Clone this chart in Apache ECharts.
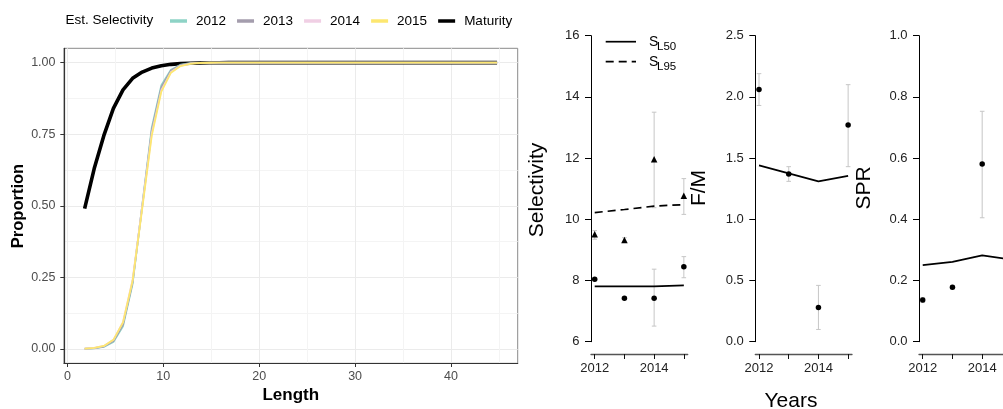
<!DOCTYPE html>
<html><head><meta charset="utf-8">
<script src="https://cdn.jsdelivr.net/npm/echarts@6/dist/echarts.min.js"></script>
<style>html,body{margin:0;padding:0;background:#fff}#c{width:1003px;height:409px}</style>
</head><body><div id="c"></div>
<script>
// ---------- Left panel data ----------
const lengths = [1.8,2.8,3.8,4.8,5.8,6.8,7.8,8.8,9.8,10.8,11.8,12.8,13.8,14.8,15.8,16.8,17.8,18.8,19.8,20.8,21.8,22.8,23.8,24.8,25.8,26.8,27.8,28.8,29.8,30.8,31.8,32.8,33.8,34.8,35.8,36.8,37.8,38.8,39.8,40.8,41.8,42.8,43.8,44.8];
const sel2012 = [0.0006,0.0022,0.0073,0.0246,0.079,0.227,0.5,0.773,0.921,0.975,0.9927,0.9978,0.9994,0.9998,1,1,1,1,1,1,1,1,1,1,1,1,1,1,1,1,1,1,1,1,1,1,1,1,1,1,1,1,1,1];
const sel2013 = [0.0008,0.0027,0.0087,0.0277,0.085,0.233,0.497,0.763,0.913,0.972,0.991,0.9973,0.9992,0.9998,1,1,1,1,1,1,1,1,1,1,1,1,1,1,1,1,1,1,1,1,1,1,1,1,1,1,1,1,1,1];
const sel2014 = [0.0011,0.0035,0.0108,0.032,0.094,0.242,0.497,0.753,0.904,0.967,0.989,0.9964,0.9988,0.9996,1,1,1,1,1,1,1,1,1,1,1,1,1,1,1,1,1,1,1,1,1,1,1,1,1,1,1,1,1,1];
const sel2015 = [0.0012,0.0036,0.0108,0.032,0.093,0.238,0.489,0.745,0.899,0.965,0.988,0.996,0.9987,0.9996,1,1,1,1,1,1,1,1,1,1,1,1,1,1,1,1,1,1,1,1,1,1,1,1,1,1,1,1,1,1];
const maturity = [0.49,0.63,0.745,0.84,0.905,0.945,0.967,0.981,0.989,0.994,0.9965,0.998,0.9989,0.9994,0.9997,1,1,1,1,1,1,1,1,1,1,1,1,1,1,1,1,1,1,1,1,1,1,1,1,1,1,1,1,1];
const legendNames = ['2012','2013','2014','2015','Maturity'];
const xTicksLeft = [0,10,20,30,40];
const xMinorLeft = [5,15,25,35,45];
const yTicksLeft = [0,0.25,0.5,0.75,1];
const yMinorLeft = [0.125,0.375,0.625,0.875];

// ---------- Right panels data ----------
const years = [2012,2013,2014,2015];
const yearLabels = [2012,2014];
const sl50Line = [7.81,7.81,7.81,7.84];
const sl95Line = [10.22,10.32,10.43,10.48];
const sl50Est = [8.04,7.42,7.42,8.45];
const sl50Lo  = [7.99,7.38,6.51,8.09];
const sl50Hi  = [8.09,7.46,8.37,8.78];
const sl95Est = [9.51,9.32,11.96,10.77];
const sl95Lo  = [9.35,9.24,10.38,10.16];
const sl95Hi  = [9.63,9.40,13.5,11.33];
const fmLine = [1.44,1.375,1.31,1.355];
const fmEst = [2.06,1.37,0.28,1.77];
const fmLo  = [1.93,1.31,0.10,1.43];
const fmHi  = [2.19,1.43,0.46,2.10];
const sprLine = [0.25,0.261,0.282,0.268];
const sprEst = [0.136,0.178,0.581];
const sprLo  = [0.128,0.172,0.405];
const sprHi  = [0.144,0.184,0.753];

const FONT = "'Liberation Sans', Arial, sans-serif";
const colors = {'2012':'#8ED3C6','2013':'#A49DAD','2014':'#F0CFE4','2015':'#FDE770','Maturity':'#000000'};

const pairs = (xs, ys) => xs.map((x,i)=>[x, ys[i]]);
const errData = (est, lo, hi) => est.map((v,i)=>[years[i], lo[i], hi[i]]);

function errRender(params, api){
  const x = api.value(0), lo = api.value(1), hi = api.value(2);
  const p1 = api.coord([x, lo]), p2 = api.coord([x, hi]);
  const w = 2.3;
  const st = {stroke:'#c6c6c6', lineWidth:1};
  return {type:'group', children:[
    {type:'line', shape:{x1:p1[0],y1:p1[1],x2:p2[0],y2:p2[1]}, style:st},
    {type:'line', shape:{x1:p1[0]-w,y1:p1[1],x2:p1[0]+w,y2:p1[1]}, style:st},
    {type:'line', shape:{x1:p2[0]-w,y1:p2[1],x2:p2[0]+w,y2:p2[1]}, style:st}
  ]};
}

const chart = echarts.init(document.getElementById('c'), null, {renderer:'canvas', devicePixelRatio:1});

// third panel is cut by the right edge of the picture: its grid ends at the canvas edge
const rightGrids = [
  {left:591, top:35.7, width:96.7, height:306},
  {left:755.3, top:35.7, width:96.7, height:306},
  {left:919, top:35.7, right:0, height:306}
];
const xMaxes = [2015.13, 2015.13, 2014.70];

function rightX(gi){
  return {gridIndex:gi, type:'value', min:2011.875, max:xMaxes[gi-1], offset:12.3, position:'bottom',
    axisLine:{show:true, onZero:false, lineStyle:{color:'#555', width:1.3}},
    axisTick:{show:true, customValues:years.filter(y=>y<=xMaxes[gi-1]), length:5, lineStyle:{color:'#111'}},
    axisLabel:{show:true, customValues:yearLabels, margin:8, fontSize:13, color:'#222', fontFamily:FONT, formatter:v=>String(Math.round(v))},
    splitLine:{show:false}};
}
function rightY(gi, min, max, interval, dec){
  return {gridIndex:gi, type:'value', min:min, max:max, interval:interval,
    axisLine:{show:true, onZero:false, lineStyle:{color:'#000', width:1}},
    axisTick:{show:true, length:6, lineStyle:{color:'#000'}},
    axisLabel:{margin:11.5, fontSize:13, color:'#222', fontFamily:FONT, formatter:v=>v.toFixed(dec)},
    splitLine:{show:false}};
}

const leftSeries = [];
leftSeries.push({name:'Maturity', type:'line', xAxisIndex:0, yAxisIndex:0, data:pairs(lengths, maturity), symbol:'none', lineStyle:{color:colors['Maturity'], width:3.6}, itemStyle:{color:colors['Maturity']}, z:2});
[['2012',sel2012],['2013',sel2013],['2014',sel2014],['2015',sel2015]].forEach(([n,arr])=>{
  leftSeries.push({name:n, type:'line', xAxisIndex:0, yAxisIndex:0, data:pairs(lengths, arr), symbol:'none', lineStyle:{color:colors[n], width:1.8}, itemStyle:{color:colors[n]}, z:3});
});

const pt = {color:'#000', opacity:1};
const rightSeries = [
  // Selectivity
  {name:'sl50l', type:'line', xAxisIndex:2, yAxisIndex:2, data:pairs(years, sl50Line), symbol:'none', lineStyle:{color:'#000', width:1.7}},
  {name:'sl95l', type:'line', xAxisIndex:2, yAxisIndex:2, data:pairs(years, sl95Line), symbol:'none', lineStyle:{color:'#000', width:1.7, type:[8,5]}},
  {name:'sl50e', type:'custom', xAxisIndex:2, yAxisIndex:2, data:errData(sl50Est, sl50Lo, sl50Hi), renderItem:errRender, encode:{x:0, y:[1,2]}},
  {name:'sl95e', type:'custom', xAxisIndex:2, yAxisIndex:2, data:errData(sl95Est, sl95Lo, sl95Hi), renderItem:errRender, encode:{x:0, y:[1,2]}},
  {name:'sl50p', type:'scatter', xAxisIndex:2, yAxisIndex:2, data:pairs(years, sl50Est), symbol:'circle', symbolSize:5.5, itemStyle:pt, z:5},
  {name:'sl95p', type:'scatter', xAxisIndex:2, yAxisIndex:2, data:pairs(years, sl95Est), symbol:'triangle', symbolSize:6.5, itemStyle:pt, z:5},
  // F/M
  {name:'fml', type:'line', xAxisIndex:3, yAxisIndex:3, data:pairs(years, fmLine), symbol:'none', lineStyle:{color:'#000', width:1.7}},
  {name:'fme', type:'custom', xAxisIndex:3, yAxisIndex:3, data:errData(fmEst, fmLo, fmHi), renderItem:errRender, encode:{x:0, y:[1,2]}},
  {name:'fmp', type:'scatter', xAxisIndex:3, yAxisIndex:3, data:pairs(years, fmEst), symbol:'circle', symbolSize:5.5, itemStyle:pt, z:5},
  // SPR
  {name:'sprl', type:'line', xAxisIndex:4, yAxisIndex:4, data:pairs(years, sprLine), symbol:'none', clip:true, lineStyle:{color:'#000', width:1.7}},
  {name:'spre', type:'custom', xAxisIndex:4, yAxisIndex:4, data:errData(sprEst, sprLo, sprHi), renderItem:errRender, encode:{x:0, y:[1,2]}},
  {name:'sprp', type:'scatter', xAxisIndex:4, yAxisIndex:4, data:pairs(years.slice(0, sprEst.length), sprEst), symbol:'circle', symbolSize:5.5, itemStyle:pt, z:5}
];

const txt = (text, x, y, size, opts={}) => Object.assign({type:'text', x:x, y:y, silent:true,
  style:Object.assign({text:text, fontSize:size, fontFamily:FONT, fill:'#000', align:'left', verticalAlign:'middle'}, opts.style||{})}, opts.el||{});

const option = {
  animation:false,
  backgroundColor:'#fff',
  grid:[
    {left:64, top:48.3, width:453.7, height:315, show:true, borderColor:'#8a8a8a', borderWidth:1, backgroundColor:'#fff'},
    ...rightGrids
  ],
  legend:{data:legendNames, left:165, top:8, icon:'rect', itemWidth:17, itemHeight:3.5, itemGap:11, selectedMode:false,
    textStyle:{fontSize:13.5, color:'#000', fontFamily:FONT, padding:[0,0,0,4], lineHeight:16}},
  xAxis:[
    {gridIndex:0, type:'value', min:-0.35, max:46.95, position:'bottom',
      axisLine:{show:true, onZero:false, lineStyle:{color:'#333', width:1.2}},
      axisTick:{show:true, customValues:xTicksLeft, length:3.7, lineStyle:{color:'#333'}},
      axisLabel:{customValues:xTicksLeft, margin:6.5, fontSize:12.5, color:'#4d4d4d', fontFamily:FONT},
      splitLine:{show:true, lineStyle:{color:'#ebebeb', width:1}}},
    {gridIndex:0, type:'value', min:-0.35, max:46.95, position:'top',
      axisLine:{show:false}, axisLabel:{show:false},
      axisTick:{show:false, customValues:xMinorLeft},
      splitLine:{show:true, lineStyle:{color:'#f4f4f4', width:1}}},
    rightX(1), rightX(2), rightX(3)
  ],
  yAxis:[
    {gridIndex:0, type:'value', min:-0.05, max:1.05,
      axisLine:{show:true, onZero:false, lineStyle:{color:'#333', width:1.2}},
      axisTick:{show:true, customValues:yTicksLeft, length:3.7, lineStyle:{color:'#333'}},
      axisLabel:{customValues:yTicksLeft, margin:8.5, fontSize:12.5, color:'#4d4d4d', fontFamily:FONT, formatter:v=>v.toFixed(2)},
      splitLine:{show:true, lineStyle:{color:'#ebebeb', width:1}}},
    {gridIndex:0, type:'value', min:-0.05, max:1.05, position:'right',
      axisLine:{show:false}, axisLabel:{show:false},
      axisTick:{show:false, customValues:yMinorLeft},
      splitLine:{show:true, lineStyle:{color:'#f4f4f4', width:1}}},
    rightY(1, 6, 16, 2, 0), rightY(2, 0, 2.5, 0.5, 1), rightY(3, 0, 1, 0.2, 1)
  ],
  graphic:[
    txt('Est. Selectivity', 65.5, 20, 13.5),
    txt('Proportion', 18, 206, 16.5, {style:{fontWeight:'bold', align:'center'}, el:{rotation:Math.PI/2}}),
    txt('Length', 290.8, 395, 17, {style:{fontWeight:'bold', align:'center'}}),
    txt('Selectivity', 537, 190, 21, {style:{align:'center'}, el:{rotation:Math.PI/2}}),
    txt('F/M', 699, 188, 21, {style:{align:'center'}, el:{rotation:Math.PI/2}}),
    txt('SPR', 864, 188, 21, {style:{align:'center'}, el:{rotation:Math.PI/2}}),
    txt('Years', 791, 401, 21, {style:{align:'center'}}),
    {type:'line', silent:true, shape:{x1:605.7, y1:41.7, x2:636, y2:41.7}, style:{stroke:'#000', lineWidth:1.7}},
    {type:'line', silent:true, shape:{x1:605.7, y1:61.7, x2:636, y2:61.7}, style:{stroke:'#000', lineWidth:1.7, lineDash:[8,5]}},
    txt('S', 649, 42.3, 14),
    txt('L50', 657, 46.7, 11.5),
    txt('S', 649, 62.5, 14),
    txt('L95', 657, 66.9, 11.5)
  ],
  series:[...leftSeries, ...rightSeries]
};
chart.setOption(option);
</script>
</body></html>
